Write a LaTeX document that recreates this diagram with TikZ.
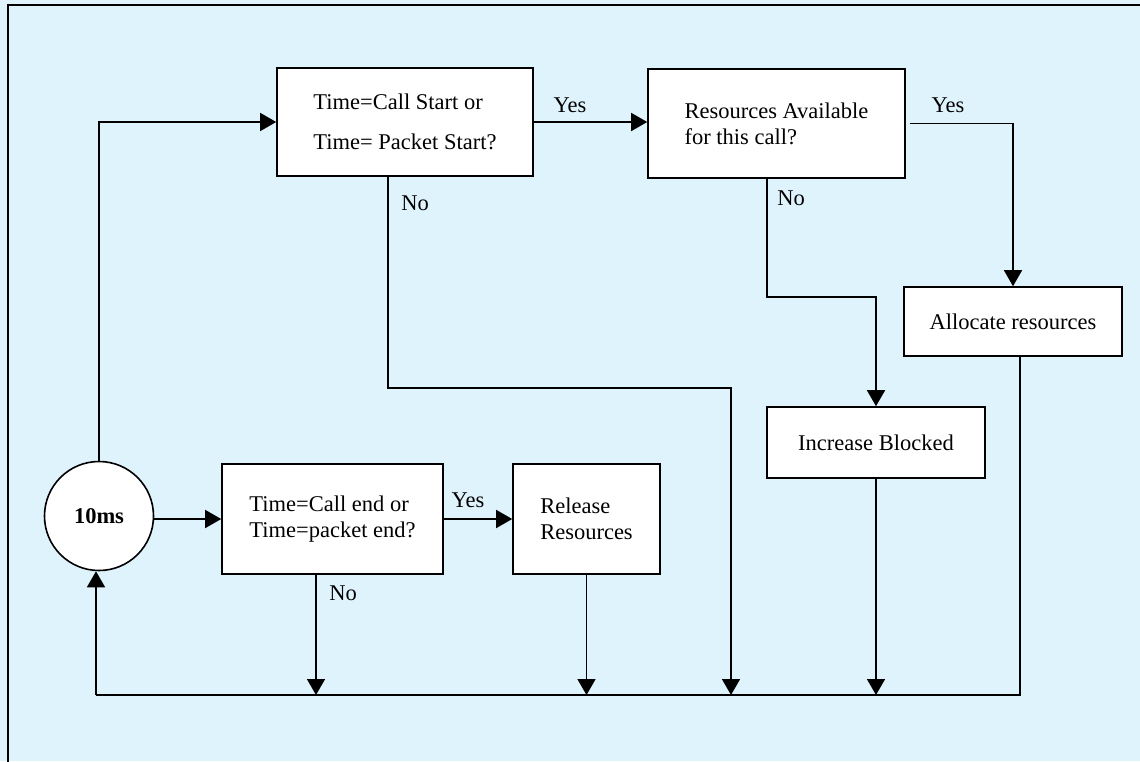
\documentclass[tikz,border=0pt]{standalone}
\usepackage{fontspec}
\setmainfont{Liberation Serif}
\usetikzlibrary{arrows.meta}
\definecolor{panel}{RGB}{223,243,252}
\begin{document}
\begin{tikzpicture}[x=1pt,y=-1pt,
  every node/.style={font=\fontsize{22.5}{26}\selectfont},
  box/.style={draw,fill=white,line width=1.6pt,inner sep=0pt,align=left},
  lbl/.style={inner sep=0pt},
  flow/.style={line width=1.6pt},
  arr/.style={flow,-{Triangle[length=16pt,width=18pt]}}]
% panel and its frame
\fill[panel] (0,0) rectangle (1140,761);
\useasboundingbox (0,0) rectangle (1140,761);
\draw[line width=2pt] (8,770) -- (8,5) -- (1150,5);

% process boxes
\node[box,minimum width=256pt,minimum height=108pt] (A) at (405,122)
  {Time=Call Start or\\[14pt]Time= Packet Start?};
\node[box,minimum width=257pt,minimum height=109pt] (B) at (776.5,123.5)
  {Resources Available\\for this call?};
\node[box,minimum width=218pt,minimum height=69pt] (alloc) at (1013,321.5)
  {Allocate resources};
\node[box,minimum width=218pt,minimum height=71pt] (inc) at (876,442.5)
  {Increase Blocked};
\node[draw,circle,fill=white,line width=1.6pt,minimum size=109pt,inner sep=0pt,
  font=\fontsize{22.5}{26}\selectfont\bfseries] (clk) at (99,516) {10ms};
\node[box,minimum width=221pt,minimum height=110pt] (C) at (332.5,519)
  {Time=Call end or\\Time=packet end?};
\node[box,minimum width=147pt,minimum height=110pt] (D) at (586.5,519)
  {Release\\Resources};

% return bus
\coordinate (busL) at (96,695);
\coordinate (busR) at (1020,695);

% connectors
\draw[arr] (clk.north) |- (A.west);
\draw[arr] (A.east) -- (B.west |- A.east);
\node[lbl] (ayes) at (570,105) {Yes};
\draw[arr] (A.south -| 388,0) -- (388,388) -| (731,695);
\node[lbl] (ano) at (415,203) {No};
\draw[arr] ([xshift=4pt]B.east) -| (alloc.north);
\node[lbl] (byes) at (948,105) {Yes};
\draw[arr] (B.south -| 767,0) -- (767,297) -| (inc.north);
\node[lbl] (bno) at (791,198) {No};
\draw[flow] ([xshift=7pt]alloc.south) -- (busR) -- (busL);
\draw[arr] (busL) -- (clk.south -| busL);
\draw[arr] (clk.east |- C.west) -- (C.west);
\draw[arr] (C.east) -- (D.west);
\node[lbl] (cyes) at (468,500) {Yes};
\draw[arr] (C.south -| 316,0) -- (316,695);
\node[lbl] (cno) at (343,593) {No};
\draw[arr] (D.south) -- (D.south |- busL);
\draw[arr] (inc.south) -- (inc.south |- busL);
\end{tikzpicture}
\end{document}
